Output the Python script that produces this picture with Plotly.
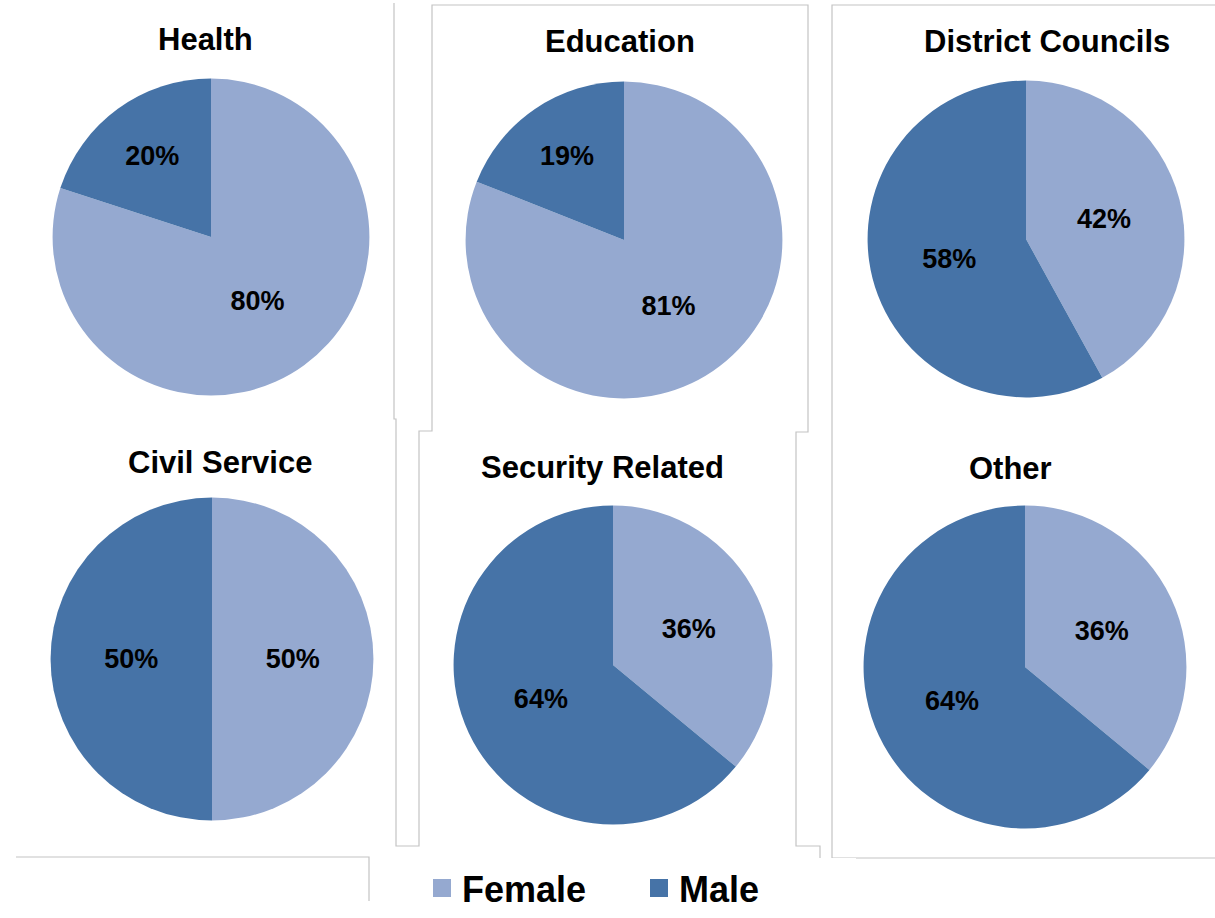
import plotly.graph_objects as go

W, H = 1215, 918
# the photographed page comes out about 1.85% shorter than the layout,
# so positions are converted with this height
H_EFF = 901
PIE_FIX = 1.009  # pies get squashed a little, grow them a touch

# Data
sectors = ["Health", "Education", "District Councils",
           "Civil Service", "Security Related", "Other"]
female = [80, 81, 42, 50, 36, 36]
male = [20, 19, 58, 50, 64, 64]
genders = ["Female", "Male"]

# Colors
COLOR_FEMALE = "#95a9d0"
COLOR_MALE = "#4673a7"
GENDER_COLORS = [COLOR_FEMALE, COLOR_MALE]
FRAME = "#c4c4c4"
FONT = "Liberation Sans, Arial, sans-serif"

# pie centre (px), radius (px), title centre (px)
layout_px = [
    ((211, 237), 157, (205, 40)),
    ((624, 240), 157, (620, 42)),
    ((1026, 239), 157, (1047, 42)),
    ((212, 659), 160, (220, 462)),
    ((613, 665), 158, (602, 467)),
    ((1025, 667), 160, (1010, 468)),
]


def px_x(x):
    return x / W


def px_y(y):
    return max(0, 1 - y / H_EFF)


fig = go.Figure()

for i, name in enumerate(sectors):
    (cx, cy), r, _ = layout_px[i]
    r = r * PIE_FIX
    fig.add_trace(go.Pie(
        labels=genders,
        values=[female[i], male[i]],
        name=name,
        sort=False,
        direction="clockwise",
        rotation=0,
        marker=dict(colors=GENDER_COLORS, line=dict(width=0)),
        texttemplate="<b>%{percent:.0%}</b>",
        textposition="inside",
        insidetextorientation="horizontal",
        textfont=dict(family=FONT, size=27, color="black"),
        hoverinfo="label+percent+name",
        showlegend=False,
        domain=dict(x=[px_x(cx - r), px_x(cx + r)], y=[px_y(cy + r), px_y(cy - r)]),
    ))

# Legend entries (bigger squares than the pie legend gives)
for g, c in zip(genders, GENDER_COLORS):
    fig.add_trace(go.Scatter(
        x=[None], y=[None], mode="markers", name=g,
        marker=dict(symbol="square", size=16, color=c, line=dict(width=2, color=c)),
        hoverinfo="skip",
    ))

# Titles
annotations = []
for i, name in enumerate(sectors):
    _, _, (tx, ty) = layout_px[i]
    annotations.append(dict(
        text=f"<b>{name}</b>", x=px_x(tx), y=px_y(ty), xref="paper", yref="paper",
        xanchor="center", yanchor="middle", showarrow=False,
        font=dict(family=FONT, size=31, color="black"),
    ))


# Frame lines left over from the source layout
def polyline(points):
    d = "M " + " L ".join(f"{px_x(x)},{px_y(y)}" for x, y in points)
    return dict(type="path", path=d, xref="paper", yref="paper",
                line=dict(color=FRAME, width=1.2))


shapes = [
    polyline([(394, 3), (394, 419), (396, 419), (396, 846), (419, 846), (419, 431),
              (432, 431), (432, 5), (808, 5), (808, 432), (796, 432), (796, 846),
              (820, 846), (820, 918)]),
    polyline([(1215, 5), (832, 5), (832, 858), (1215, 858)]),
    polyline([(16, 857), (369, 857), (369, 918)]),
]

fig.update_layout(
    width=W, height=H,
    margin=dict(l=0, r=0, t=0, b=0),
    paper_bgcolor="white",
    plot_bgcolor="white",
    annotations=annotations,
    shapes=shapes,
    xaxis=dict(visible=False),
    yaxis=dict(visible=False),
    legend=dict(
        orientation="h", x=px_x(422), y=px_y(858), xanchor="left", yanchor="top",
        font=dict(family=FONT, size=36, color="black", weight="bold"),
        itemwidth=30, entrywidth=172, traceorder="normal",
    ),
)

fig.write_html("out.html", config={"displayModeBar": False},
               post_script="document.body.style.margin='0';")
